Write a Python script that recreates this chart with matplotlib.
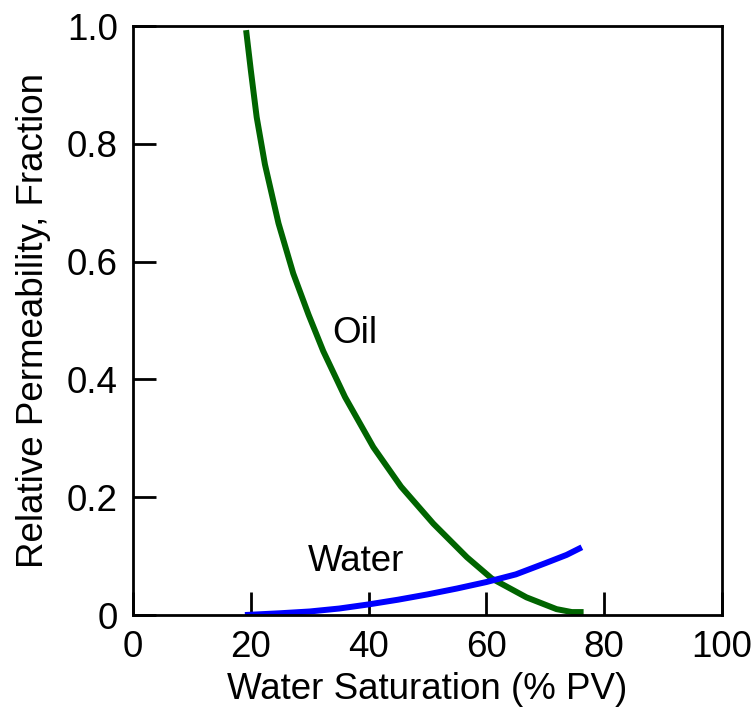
import matplotlib
matplotlib.use("Agg")
import matplotlib.pyplot as plt

# =========================
# DATA
# =========================
sw_oil = [19.2, 20.0, 21.0, 22.4, 24.7, 27.2, 29.8, 32.3, 36.0, 40.8, 45.5,
          51.0, 56.7, 60.9, 66.8, 71.9, 74.5, 76.5]
kro = [0.993, 0.925, 0.845, 0.765, 0.665, 0.580, 0.510, 0.448, 0.370, 0.285,
       0.218, 0.155, 0.098, 0.062, 0.030, 0.010, 0.005, 0.005]

sw_water = [19, 25, 30, 35, 40, 45, 50, 55, 60, 65, 70, 73.6, 76.2]
krw = [0.0, 0.003, 0.006, 0.011, 0.018, 0.026, 0.035, 0.045, 0.056, 0.069,
       0.088, 0.102, 0.115]

x_ticks = [0, 20, 40, 60, 80, 100]
y_ticks = [0, 0.2, 0.4, 0.6, 0.8, 1.0]
y_ticklabels = ["0", "0.2", "0.4", "0.6", "0.8", "1.0"]

FS = 26.5
plt.rcParams["font.family"] = ["Liberation Sans", "DejaVu Sans"]

fig = plt.figure(figsize=(7.54, 7.21), dpi=100)
ax = fig.add_axes([0.1764, 0.1470, 0.7812, 0.8169])

ax.plot(sw_oil, kro, color="#006400", lw=4.3,
        solid_capstyle="butt", solid_joinstyle="round")
ax.plot(sw_water, krw, color="#0000ff", lw=4.3,
        solid_capstyle="butt", solid_joinstyle="round")

ax.text(33.8, 0.462, "Oil", fontsize=FS, va="baseline", ha="left")
ax.text(29.7, 0.075, "Water", fontsize=FS, va="baseline", ha="left")

ax.set_xlim(0, 100)
ax.set_ylim(0, 1.0)
ax.set_xticks(x_ticks)
ax.set_yticks(y_ticks)
ax.set_yticklabels(y_ticklabels)
ax.tick_params(direction="in", length=16.5, width=2, labelsize=FS)
ax.tick_params(axis="x", pad=11)
ax.tick_params(axis="y", pad=11)
for s in ax.spines.values():
    s.set_linewidth(2)

ax.set_xlabel("Water Saturation (% PV)", fontsize=FS, labelpad=5)
ax.set_ylabel("Relative Permeability, Fraction", fontsize=FS, labelpad=11)

plt.savefig("out.png", dpi=100)
